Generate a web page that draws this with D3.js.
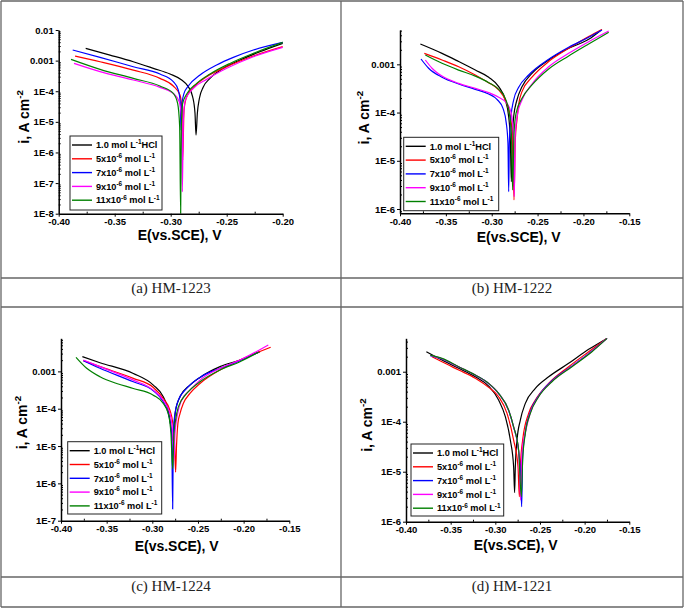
<!DOCTYPE html>
<html>
<head>
<meta charset="utf-8">
<script src="https://cdn.jsdelivr.net/npm/d3@7"></script>
<style>
  body { margin: 0; background: #fff; }
  svg { display: block; }
</style>
</head>
<body>
<div id="chart"></div>
<script>
// Legend labels, as [text, isSuperscript] parts
const seriesLabels = [
  [["1.0 mol L", 0], ["-1", 1], ["HCl", 0]],
  [["5x10", 0], ["-6", 1], [" mol L", 0], ["-1", 1]],
  [["7x10", 0], ["-6", 1], [" mol L", 0], ["-1", 1]],
  [["9x10", 0], ["-6", 1], [" mol L", 0], ["-1", 1]],
  [["11x10", 0], ["-6", 1], [" mol L", 0], ["-1", 1]]
];
const seriesColors = ["#000000", "#ff0000", "#0000ff", "#ff00ff", "#008000"];
const captions = ["(a) HM-1223", "(b) HM-1222", "(c) HM-1224", "(d) HM-1221"];

const xTicksA = [-0.40, -0.35, -0.30, -0.25, -0.20];
const xTicksBCD = [-0.40, -0.35, -0.30, -0.25, -0.20, -0.15];
const yTicksA = [1e-2, 1e-3, 1e-4, 1e-5, 1e-6, 1e-7, 1e-8];
const yTicksB = [1e-3, 1e-4, 1e-5, 1e-6];
const yTicksC = [1e-3, 1e-4, 1e-5, 1e-6, 1e-7];
const yTicksD = [1e-3, 1e-4, 1e-5, 1e-6];

// Tafel curves: [E (V vs SCE), i (A cm-2)]
// (a) HM-1223
const hm1223Blank = [[-0.3759,2.52e-3],[-0.3542,1.52e-3],[-0.3334,9.2e-4],[-0.3155,5.6e-4],[-0.3006,3.65e-4],[-0.2902,2.32e-4],[-0.2843,1.41e-4],[-0.2804,6.6e-5],[-0.2783,1.9e-5],[-0.2774,3.7e-6],[-0.2762,1.9e-5],[-0.2744,5.8e-5],[-0.2709,1.38e-4],[-0.2649,2.63e-4],[-0.2530,5.6e-4],[-0.2381,1.05e-3],[-0.2203,1.96e-3],[-0.2000,3.66e-3]];
const hm1223C5 = [[-0.3854,1.41e-3],[-0.3631,9.2e-4],[-0.3334,4.9e-4],[-0.3096,2.63e-4],[-0.2977,1.48e-4],[-0.2917,7.5e-5],[-0.2899,2.4e-5],[-0.2893,5.6e-7],[-0.2881,2.4e-5],[-0.2857,6.6e-5],[-0.2798,1.34e-4],[-0.2679,2.98e-4],[-0.2500,6.3e-4],[-0.2262,1.41e-3],[-0.2000,2.85e-3]];
const hm1223C7 = [[-0.3875,2.22e-3],[-0.3631,1.28e-3],[-0.3334,6.3e-4],[-0.3096,3.65e-4],[-0.2977,2.05e-4],[-0.2932,1.09e-4],[-0.2914,4.0e-5],[-0.2908,5.4e-6],[-0.2899,4.0e-5],[-0.2881,8.5e-5],[-0.2843,1.48e-4],[-0.2738,3.4e-4],[-0.2590,7.2e-4],[-0.2441,1.28e-3],[-0.2262,2.22e-3],[-0.2000,3.95e-3]];
const hm1223C9 = [[-0.3863,8.1e-4],[-0.3631,4.35e-4],[-0.3334,2.32e-4],[-0.3096,1.34e-4],[-0.2977,8.5e-5],[-0.2923,4.55e-5],[-0.2902,1.15e-5],[-0.2896,5.2e-8],[-0.2887,1.15e-5],[-0.2869,5.2e-5],[-0.2798,1.24e-4],[-0.2679,2.44e-4],[-0.2500,5.6e-4],[-0.2262,1.34e-3],[-0.2000,2.71e-3]];
const hm1223C11 = [[-0.3890,1.10e-3],[-0.3631,5.2e-4],[-0.3334,2.63e-4],[-0.3096,1.48e-4],[-0.2977,8.5e-5],[-0.2938,4.0e-5],[-0.2920,6.9e-6],[-0.2911,1.0e-8],[-0.2905,6.9e-6],[-0.2893,4.0e-5],[-0.2857,8.1e-5],[-0.2768,1.81e-4],[-0.2649,3.65e-4],[-0.2471,8.1e-4],[-0.2262,1.73e-3],[-0.2000,3.95e-3]];

// (b) HM-1222
const hm1222Blank = [[-0.3778,2.64e-3],[-0.3542,1.69e-3],[-0.3360,1.14e-3],[-0.3179,7.6e-4],[-0.3033,5.4e-4],[-0.2924,3.44e-4],[-0.2852,1.82e-4],[-0.2815,8.2e-5],[-0.2797,2.7e-5],[-0.2786,3.7e-6],[-0.2775,2.7e-5],[-0.2761,8.2e-5],[-0.2725,1.82e-4],[-0.2670,3.44e-4],[-0.2561,6.5e-4],[-0.2379,1.23e-3],[-0.2161,2.15e-3],[-0.1943,3.3e-3],[-0.1816,4.99e-3]];
const hm1222C5 = [[-0.3735,1.69e-3],[-0.3542,1.23e-3],[-0.3360,8.9e-4],[-0.3179,6.0e-4],[-0.3033,4.17e-4],[-0.2924,2.94e-4],[-0.2852,1.82e-4],[-0.2797,8.2e-5],[-0.2772,2.7e-5],[-0.2757,1.54e-6],[-0.2743,2.7e-5],[-0.2725,7.0e-5],[-0.2706,1.5e-4],[-0.2670,2.71e-4],[-0.2561,5.4e-4],[-0.2379,1.14e-3],[-0.2161,2.15e-3],[-0.1943,3.75e-3],[-0.1798,5.3e-3]];
const hm1222C7 = [[-0.3771,1.29e-3],[-0.3688,8.3e-4],[-0.3542,5.4e-4],[-0.3360,3.91e-4],[-0.3179,3.03e-4],[-0.3033,2.43e-4],[-0.2943,1.88e-4],[-0.2877,1.22e-4],[-0.2841,5.98e-5],[-0.2823,2.3e-5],[-0.2815,2.29e-6],[-0.2808,2.3e-5],[-0.2790,8.2e-5],[-0.2761,1.82e-4],[-0.2706,3.33e-4],[-0.2597,6.0e-4],[-0.2379,1.27e-3],[-0.2161,2.25e-3],[-0.1943,3.63e-3],[-0.1798,5.15e-3]];
const hm1222C9 = [[-0.3724,1.23e-3],[-0.3651,8.3e-4],[-0.3542,5.7e-4],[-0.3360,4.03e-4],[-0.3179,3.18e-4],[-0.3033,2.59e-4],[-0.2924,2.07e-4],[-0.2834,1.55e-4],[-0.2786,9.6e-5],[-0.2765,3.71e-5],[-0.2754,1.8e-6],[-0.2743,3.71e-5],[-0.2717,9.6e-5],[-0.2670,1.82e-4],[-0.2561,3.91e-4],[-0.2379,8.9e-4],[-0.2161,1.69e-3],[-0.1943,2.95e-3],[-0.1725,4.91e-3]];
const hm1222C11 = [[-0.3724,1.56e-3],[-0.3542,1.05e-3],[-0.3360,7.6e-4],[-0.3179,5.7e-4],[-0.3033,4.17e-4],[-0.2924,3.03e-4],[-0.2852,1.97e-4],[-0.2808,9.6e-5],[-0.2786,3.71e-5],[-0.2772,2.48e-6],[-0.2757,3.71e-5],[-0.2735,9.6e-5],[-0.2670,1.97e-4],[-0.2561,3.73e-4],[-0.2379,8.0e-4],[-0.2161,1.49e-3],[-0.1943,2.64e-3],[-0.1725,4.61e-3]];

// (c) HM-1224
const hm1224Blank = [[-0.3766,2.48e-3],[-0.3573,1.71e-3],[-0.3208,8.8e-4],[-0.2989,4.29e-4],[-0.2880,2.08e-4],[-0.2825,9.1e-5],[-0.2796,3.25e-5],[-0.2777,1.42e-5],[-0.2763,3.25e-5],[-0.2745,9.1e-5],[-0.2697,2.08e-4],[-0.2588,4.29e-4],[-0.2478,6.9e-4],[-0.2259,1.34e-3],[-0.2040,2.02e-3],[-0.1821,3.38e-3]];
const hm1224C5 = [[-0.3755,1.94e-3],[-0.3573,1.34e-3],[-0.3208,6.5e-4],[-0.2989,3.71e-4],[-0.2880,1.88e-4],[-0.2807,9.1e-5],[-0.2775,4.0e-5],[-0.2755,1.0e-5],[-0.2745,2.0e-6],[-0.2735,1.0e-5],[-0.2720,4.0e-5],[-0.2697,7.4e-5],[-0.2661,1.38e-4],[-0.2588,2.56e-4],[-0.2478,4.75e-4],[-0.2259,1.09e-3],[-0.2040,2.02e-3],[-0.1704,4.43e-3]];
const hm1224C7 = [[-0.3755,1.94e-3],[-0.3573,1.21e-3],[-0.3208,5.27e-4],[-0.2989,3.02e-4],[-0.2880,1.53e-4],[-0.2825,7.4e-5],[-0.2788,2.15e-5],[-0.2777,2.06e-7],[-0.2770,2.15e-5],[-0.2752,7.4e-5],[-0.2715,1.69e-4],[-0.2624,3.49e-4],[-0.2478,6.9e-4],[-0.2259,1.21e-3],[-0.2040,1.94e-3],[-0.1839,3.25e-3]];
const hm1224C9 = [[-0.3755,2.02e-3],[-0.3573,1.34e-3],[-0.3208,5.85e-4],[-0.2989,3.15e-4],[-0.2880,1.69e-4],[-0.2807,7.4e-5],[-0.2777,2.15e-5],[-0.2763,4.11e-6],[-0.2752,2.15e-5],[-0.2723,7.4e-5],[-0.2679,1.69e-4],[-0.2588,3.15e-4],[-0.2478,5.85e-4],[-0.2259,1.21e-3],[-0.2040,2.02e-3],[-0.1730,5.12e-3]];
const hm1224C11 = [[-0.3836,2.38e-3],[-0.3719,1.21e-3],[-0.3573,7.2e-4],[-0.3391,4.75e-4],[-0.3208,3.49e-4],[-0.2989,2.31e-4],[-0.2880,1.38e-4],[-0.2825,7.4e-5],[-0.2796,2.15e-5],[-0.2777,2.45e-6],[-0.2763,2.15e-5],[-0.2745,5.0e-5],[-0.2715,1.12e-4],[-0.2624,2.56e-4],[-0.2478,5.27e-4],[-0.2259,1.09e-3],[-0.2040,1.82e-3],[-0.1839,3.25e-3]];

// (d) HM-1221
const hm1221Blank = [[-0.3772,2.51e-3],[-0.3597,1.71e-3],[-0.3410,1.17e-3],[-0.3224,7.9e-4],[-0.3075,5.17e-4],[-0.2963,2.71e-4],[-0.2888,1.26e-4],[-0.2832,4.3e-5],[-0.2795,1.26e-5],[-0.2784,3.8e-6],[-0.2776,1.26e-5],[-0.2757,4.3e-5],[-0.2720,1.08e-4],[-0.2664,2.33e-4],[-0.2552,4.64e-4],[-0.2403,7.9e-4],[-0.2179,1.47e-3],[-0.1955,2.8e-3],[-0.1750,4.64e-3]];
const hm1221C5 = [[-0.3709,2.0e-3],[-0.3597,1.58e-3],[-0.3410,1.08e-3],[-0.3224,7.4e-4],[-0.3075,4.86e-4],[-0.2963,3.16e-4],[-0.2869,1.47e-4],[-0.2795,4.3e-5],[-0.2746,1.26e-5],[-0.2731,3.16e-6],[-0.2720,1.26e-5],[-0.2694,4.3e-5],[-0.2627,1.47e-4],[-0.2552,2.71e-4],[-0.2403,5.85e-4],[-0.2179,1.26e-3],[-0.1955,2.51e-3],[-0.1750,4.64e-3]];
const hm1221C7 = [[-0.3728,2.1e-3],[-0.3597,1.8e-3],[-0.3410,1.24e-3],[-0.3224,8.5e-4],[-0.3075,5.8e-4],[-0.2963,3.65e-4],[-0.2851,1.68e-4],[-0.2795,7.8e-5],[-0.2739,2.6e-5],[-0.2716,8.0e-6],[-0.2705,2.0e-6],[-0.2694,2.0e-5],[-0.2664,6.3e-5],[-0.2608,1.58e-4],[-0.2515,3.3e-4],[-0.2366,6.6e-4],[-0.2142,1.3e-3],[-0.1918,2.6e-3],[-0.1750,4.64e-3]];
const hm1221C9 = [[-0.3728,2.12e-3],[-0.3597,1.82e-3],[-0.3410,1.25e-3],[-0.3224,8.55e-4],[-0.3075,5.8e-4],[-0.2963,3.66e-4],[-0.2851,1.7e-4],[-0.2795,7.9e-5],[-0.2739,2.65e-5],[-0.2716,2.71e-6],[-0.2705,1.8e-5],[-0.2694,3.2e-5],[-0.2664,6.0e-5],[-0.2608,1.5e-4],[-0.2515,3.2e-4],[-0.2366,6.4e-4],[-0.2142,1.28e-3],[-0.1918,2.55e-3],[-0.1750,4.64e-3]];
const hm1221C11 = [[-0.3728,2.15e-3],[-0.3597,1.85e-3],[-0.3410,1.26e-3],[-0.3224,8.6e-4],[-0.3075,5.85e-4],[-0.2963,3.69e-4],[-0.2851,1.71e-4],[-0.2795,7.9e-5],[-0.2739,2.71e-5],[-0.2709,3.16e-6],[-0.2694,1.71e-5],[-0.2664,5.85e-5],[-0.2608,1.47e-4],[-0.2515,3.16e-4],[-0.2366,6.3e-4],[-0.2142,1.26e-3],[-0.1918,2.51e-3],[-0.1750,4.64e-3]];

const W = 685, H = 608;
const SANS = "'Liberation Sans', Arial, sans-serif";
const SERIF = "'Liberation Serif', 'Times New Roman', serif";

// panel layout (pixel boxes)
const panels = [
  { curves: [hm1223Blank, hm1223C5, hm1223C7, hm1223C9, hm1223C11],
    xDomain: [-0.40, -0.20], yDomain: [1e-8, 1e-2], xTicks: xTicksA, yTicks: yTicksA,
    plot: { l: 58.7, r: 282.7, t: 30, b: 213.7 },
    legend: { x: 70, y: 136, w: 92, h: 74 },
    xTitle: { dx: 9, dy: 26 }, yTitle: { dx: -30, dy: -5 },
    caption: { x: 171, y: 293 } },
  { curves: [hm1222Blank, hm1222C5, hm1222C7, hm1222C9, hm1222C11],
    xDomain: [-0.40, -0.15], yDomain: [8.15e-7, 5.15e-3], xTicks: xTicksBCD, yTicks: yTicksB,
    plot: { l: 400, r: 629.3, t: 30, b: 213.3 },
    legend: { x: 403.7, y: 137.3, w: 95, h: 73.4 },
    xTitle: { dx: 4, dy: 28.5 }, yTitle: { dx: -31.5, dy: -4 },
    caption: { x: 512, y: 293 } },
  { curves: [hm1224Blank, hm1224C5, hm1224C7, hm1224C9, hm1224C11],
    xDomain: [-0.40, -0.15], yDomain: [1e-7, 7.7e-3], xTicks: xTicksBCD, yTicks: yTicksC,
    plot: { l: 61, r: 289.3, t: 338.3, b: 520.7 },
    legend: { x: 67.7, y: 441.7, w: 94, h: 72.3 },
    xTitle: { dx: 1.5, dy: 30 }, yTitle: { dx: -34, dy: -7 },
    caption: { x: 171, y: 591 } },
  { curves: [hm1221Blank, hm1221C5, hm1221C7, hm1221C9, hm1221C11],
    xDomain: [-0.40, -0.15], yDomain: [1e-6, 4.66e-3], xTicks: xTicksBCD, yTicks: yTicksD,
    plot: { l: 406, r: 629.3, t: 338.3, b: 521.7 },
    legend: { x: 411, y: 444, w: 92.7, h: 72 },
    xTitle: { dx: -2, dy: 28 }, yTitle: { dx: -34, dy: -5 },
    caption: { x: 512, y: 591 } }
];

const svg = d3.select("#chart").append("svg")
  .attr("width", W)
  .attr("height", H)
  .attr("viewBox", `0 0 ${W} ${H}`);

svg.append("rect").attr("width", W).attr("height", H).attr("fill", "#fff");

// Table grid around the four figures
const grid = svg.append("g").attr("stroke", "#666").attr("stroke-width", 1.3);
[[1, 1, 683, 1], [1, 278, 683, 278], [1, 307, 683, 307], [1, 577, 683, 577], [1, 607, 683, 607],
 [1, 1, 1, 607], [341, 1, 341, 607], [683, 1, 683, 607]].forEach(([x1, y1, x2, y2]) => {
  grid.append("line").attr("x1", x1).attr("y1", y1).attr("x2", x2).attr("y2", y2);
});

// text with superscript parts
function richText(sel, parts, size) {
  let raised = false;
  const shift = size * 0.42;
  parts.forEach(([t, sup]) => {
    const ts = sel.append("tspan").text(t).attr("font-size", sup ? size * 0.7 : size);
    if (sup && !raised) { ts.attr("dy", -shift); raised = true; }
    else if (!sup && raised) { ts.attr("dy", shift); raised = false; }
  });
}

function yTickFormat(v) {
  const e = Math.round(Math.log10(v));
  return e >= -3 ? v.toFixed(-e) : "1E" + e;
}

function styleAxis(ax) {
  ax.attr("font-family", SANS).attr("font-size", 9.5).attr("font-weight", "bold");
  ax.select(".domain").attr("stroke", "#000").attr("stroke-width", 1.5);
  ax.selectAll(".tick line").attr("stroke", "#000").attr("stroke-width", 1);
  ax.selectAll(".tick text").attr("fill", "#000");
}

panels.forEach((p, pi) => {
  const x = d3.scaleLinear().domain(p.xDomain).range([p.plot.l, p.plot.r]);
  const y = d3.scaleLog().domain(p.yDomain).range([p.plot.b, p.plot.t]);
  const g = svg.append("g");

  // Curves
  const clipId = "clip" + pi;
  g.append("clipPath").attr("id", clipId).append("rect")
    .attr("x", p.plot.l).attr("y", p.plot.t - 1)
    .attr("width", p.plot.r - p.plot.l + 1).attr("height", p.plot.b - p.plot.t + 1);

  const line = d3.line()
    .x(d => x(d[0]))
    .y(d => y(d[1]))
    .curve(d3.curveMonotoneX);

  g.append("g").attr("clip-path", `url(#${clipId})`)
    .selectAll("path")
    .data(p.curves)
    .join("path")
    .attr("d", line)
    .attr("fill", "none")
    .attr("stroke", (d, k) => seriesColors[k])
    .attr("stroke-width", 1.2)
    .attr("stroke-linejoin", "round");

  // Minor ticks (inward)
  const xMinor = p.xTicks.slice(1).map((v, k) => (v + p.xTicks[k]) / 2);
  const yMinor = [];
  const e0 = Math.floor(Math.log10(p.yDomain[0]));
  const e1 = Math.ceil(Math.log10(p.yDomain[1]));
  for (let e = e0; e <= e1; e++) {
    for (let k = 2; k <= 9; k++) {
      const v = k * Math.pow(10, e);
      if (v >= p.yDomain[0] && v <= p.yDomain[1]) yMinor.push(v);
    }
  }
  const xm = g.append("g").attr("transform", `translate(0,${p.plot.b})`)
    .call(d3.axisBottom(x).tickValues(xMinor).tickSize(-2).tickFormat(""));
  xm.select(".domain").remove();
  xm.selectAll(".tick line").attr("stroke", "#000");
  const ym = g.append("g").attr("transform", `translate(${p.plot.l},0)`)
    .call(d3.axisLeft(y).tickValues(yMinor).tickSize(-2).tickFormat(""));
  ym.select(".domain").remove();
  ym.selectAll(".tick line").attr("stroke", "#000");

  // Major axes
  const xa = g.append("g").attr("transform", `translate(0,${p.plot.b})`)
    .call(d3.axisBottom(x).tickValues(p.xTicks).tickSize(3).tickSizeOuter(0)
      .tickPadding(2).tickFormat(d => d.toFixed(2)));
  styleAxis(xa);
  const ya = g.append("g").attr("transform", `translate(${p.plot.l},0)`)
    .call(d3.axisLeft(y).tickValues(p.yTicks).tickSize(3).tickSizeOuter(0)
      .tickPadding(2).tickFormat(yTickFormat));
  styleAxis(ya);

  // Axis titles
  g.append("text")
    .attr("x", (p.plot.l + p.plot.r) / 2 + p.xTitle.dx)
    .attr("y", p.plot.b + p.xTitle.dy)
    .attr("text-anchor", "middle")
    .attr("font-family", SANS)
    .attr("font-weight", "bold")
    .attr("font-size", 14)
    .text("E(vs.SCE), V");

  const yt = g.append("text")
    .attr("transform", `translate(${p.plot.l + p.yTitle.dx},${(p.plot.t + p.plot.b) / 2 + p.yTitle.dy}) rotate(-90)`)
    .attr("text-anchor", "middle")
    .attr("font-family", SANS)
    .attr("font-weight", "bold");
  richText(yt, [["i, A cm", 0], ["-2", 1]], 14);

  // Legend
  const lg = g.append("g");
  lg.append("rect")
    .attr("x", p.legend.x).attr("y", p.legend.y)
    .attr("width", p.legend.w).attr("height", p.legend.h)
    .attr("fill", "#fff").attr("stroke", "#222").attr("stroke-width", 1);
  seriesLabels.forEach((parts, k) => {
    const cy = p.legend.y + 9 + k * 13.8;
    lg.append("line")
      .attr("x1", p.legend.x + 2).attr("x2", p.legend.x + 22)
      .attr("y1", cy).attr("y2", cy)
      .attr("stroke", seriesColors[k]).attr("stroke-width", 1.4);
    const t = lg.append("text")
      .attr("x", p.legend.x + 26)
      .attr("y", cy + 3.2)
      .attr("font-family", SANS)
      .attr("font-weight", "bold");
    richText(t, parts, 9.2);
  });

  // Caption
  svg.append("text")
    .attr("x", p.caption.x)
    .attr("y", p.caption.y)
    .attr("text-anchor", "middle")
    .attr("font-family", SERIF)
    .attr("font-size", 15)
    .attr("fill", "#222")
    .text(captions[pi]);
});
</script>
</body>
</html>
